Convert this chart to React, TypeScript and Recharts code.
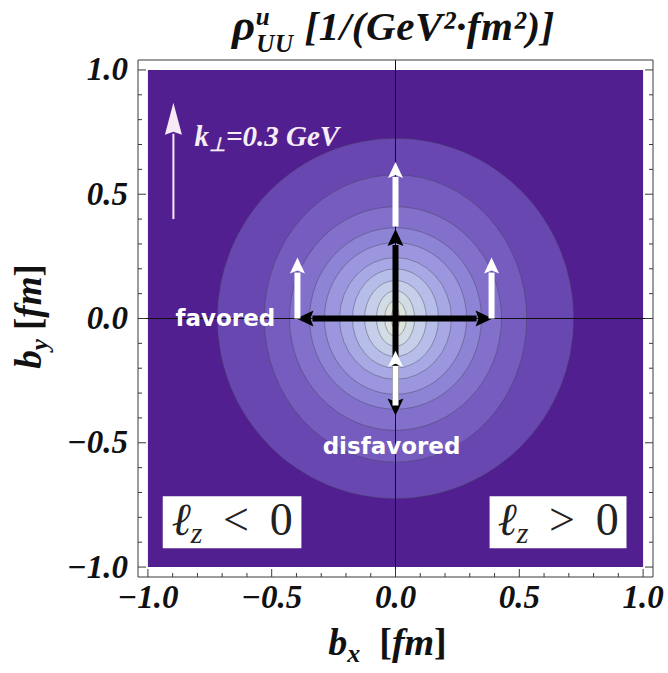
import React from "react";
import {
  ScatterChart,
  Scatter,
  XAxis,
  YAxis,
  ReferenceArea,
  ReferenceLine,
} from "recharts";

// frame ticks, every 0.1 fm (major every 0.5)
const frameTicks = [
  -1, -0.9, -0.8, -0.7, -0.6, -0.5, -0.4, -0.3, -0.2, -0.1, 0, 0.1, 0.2, 0.3,
  0.4, 0.5, 0.6, 0.7, 0.8, 0.9, 1,
];

// contour levels, outer -> inner (half widths / half heights in fm)
const contourRx = [0.72, 0.53, 0.428, 0.347, 0.287, 0.226, 0.174, 0.125, 0.077, 0.044, 0.016];
const contourRy = [0.725, 0.578, 0.45, 0.365, 0.305, 0.245, 0.2, 0.153, 0.112, 0.072, 0.044];
const contourFill = [
  "#6848b0", "#765cbe", "#8270cb", "#8e84d6", "#9b96de", "#a8a9e4",
  "#b6bde8", "#c5cfe9", "#d2dce5", "#dee3dc", "#e9e6d2",
];

// arrows in fm: [fromX, fromY, toX, toY]
const blackArrows = [
  [0, 0, 0, 0.36],
  [0, 0, -0.4, 0],
  [0, 0, 0.392, 0],
  [0, 0, 0, -0.39],
];
const whiteArrows = [
  [0, 0.37, 0, 0.63],
  [-0.396, 0, -0.396, 0.245],
  [0.388, 0, 0.388, 0.245],
  [0, -0.35, 0, -0.13],
];
const kArrow = [[-0.897, 0.4, -0.897, 0.868]];

// white boxes for l_z labels
const lzBoxes = [
  { x1: -0.94, x2: -0.38, y1: -0.924, y2: -0.715 },
  { x1: 0.38, x2: 0.933, y1: -0.924, y2: -0.715 },
];

const annotations = [
  { x: -0.687, y: -0.03, kind: "plain", text: "favored" },
  { x: -0.016, y: -0.545, kind: "plain", text: "disfavored" },
  { x: -0.812, y: 0.695, kind: "k", text: "=0.3 GeV" },
  { x: -0.66, y: -0.872, kind: "lz", text: "<" },
  { x: 0.657, y: -0.872, kind: "lz", text: ">" },
];

const serif = "'Liberation Serif', 'Times New Roman', serif";
const frameColor = "#3a3a3a";
const bg = "#521f90";

const fmt = (v: number) => v.toFixed(1).replace("-", "\u2212");

const FrameTick = (props: any) => {
  const { x, y, payload, side } = props;
  const v = payload.value;
  const major = Math.abs(v * 2 - Math.round(v * 2)) < 1e-6;
  const len = major ? 8 : 4;
  let line;
  let label = null;
  if (side === "bottom") {
    line = <line x1={x} y1={y} x2={x} y2={y - len} stroke={frameColor} />;
    if (major)
      label = (
        <text x={x} y={y + 31} textAnchor="middle" fontFamily={serif} fontWeight="bold" fontStyle="italic" fontSize={33} fill="#111">
          {fmt(v)}
        </text>
      );
  } else if (side === "top") {
    line = <line x1={x} y1={y} x2={x} y2={y + len} stroke={frameColor} />;
  } else if (side === "left") {
    line = <line x1={x} y1={y} x2={x + len} y2={y} stroke={frameColor} />;
    if (major)
      label = (
        <text x={x - 10} y={y + 10.5} textAnchor="end" fontFamily={serif} fontWeight="bold" fontStyle="italic" fontSize={33} fill="#111">
          {fmt(v)}
        </text>
      );
  } else {
    line = <line x1={x} y1={y} x2={x - len} y2={y} stroke={frameColor} />;
  }
  return (
    <g>
      {line}
      {label}
    </g>
  );
};

const arrowShape = (color: string, shaft: number, headW: number, headL: number) => (p: any) => {
  const { x1, y1, x2, y2 } = p;
  const dx = x2 - x1;
  const dy = y2 - y1;
  const len = Math.hypot(dx, dy) || 1;
  const ux = dx / len;
  const uy = dy / len;
  const bx = x2 - ux * headL;
  const by = y2 - uy * headL;
  const nx = -uy * (headW / 2);
  const ny = ux * (headW / 2);
  return (
    <g>
      <line x1={x1} y1={y1} x2={bx + ux} y2={by + uy} stroke={color} strokeWidth={shaft} />
      <polygon
        points={`${x2},${y2} ${bx + nx},${by + ny} ${bx + ux * 3},${by + uy * 3} ${bx - nx},${by - ny}`}
        fill={color}
      />
    </g>
  );
};

const ellipseShape = (fill: string) => (p: any) => (
  <ellipse
    cx={p.x + p.width / 2}
    cy={p.y + p.height / 2}
    rx={p.width / 2}
    ry={p.height / 2}
    fill={fill}
    stroke="#3c3c50"
    strokeOpacity={0.4}
    strokeWidth={1}
  />
);

const AnnotationShape = (props: any) => {
  const { cx, cy, payload } = props;
  if (payload.kind === "plain") {
    return (
      <text x={cx} y={cy} textAnchor="middle" fontFamily="'DejaVu Sans', Verdana, sans-serif" fontWeight="bold" fontSize={23} fill="#ffffff">
        {payload.text}
      </text>
    );
  }
  if (payload.kind === "k") {
    return (
      <text x={cx} y={cy} fontFamily={serif} fontWeight="bold" fontStyle="italic" fontSize={29} fill="#f6eef6">
        k<tspan fontSize={19} dy={5}>{"\u22A5"}</tspan>
        <tspan dy={-5}>{payload.text}</tspan>
      </text>
    );
  }
  return (
    <text x={cx} y={cy} textAnchor="middle" fontFamily={serif} fontSize={46} fill="#222">
      <tspan fontStyle="italic">{"\u2113"}</tspan>
      <tspan fontSize={30} fontStyle="italic" dy={8}>z</tspan>
      <tspan dy={-8}>{`\u2009 ${payload.text} \u2009`}0</tspan>
    </text>
  );
};

export default function App() {
  const dom: [number, number] = [-1.04, 1.04];
  return (
    <div style={{ position: "absolute", left: 0, top: 0, width: 668, height: 673, background: "#fff" }}>
      <ScatterChart width={668} height={673} margin={{ top: 59, right: 14, bottom: 46, left: 78 }}>
        <XAxis
          type="number"
          dataKey="x"
          domain={dom}
          allowDataOverflow
          ticks={frameTicks}
          interval={0}
          height={50}
          tickSize={0}
          tickMargin={0}
          tickLine={false}
          axisLine={{ stroke: frameColor }}
          tick={(p: any) => <FrameTick {...p} side="bottom" />}
          label={{
            content: (lp: any) => {
              const vb = lp.viewBox;
              return (
                <text x={vb.x + vb.width / 2 - 8} y={vb.y + 78} textAnchor="middle" fontFamily={serif} fontWeight="bold" fontSize={38} fill="#111">
                  <tspan fontStyle="italic">b</tspan>
                  <tspan fontStyle="italic" fontSize={26} dy={7}>x</tspan>
                  <tspan dy={-7}>{"\u2002["}</tspan>
                  <tspan fontStyle="italic">fm</tspan>
                  <tspan>]</tspan>
                </text>
              );
            },
          }}
        />
        <XAxis
          xAxisId="top"
          orientation="top"
          type="number"
          domain={dom}
          allowDataOverflow
          ticks={frameTicks}
          interval={0}
          height={1}
          tickSize={0}
          tickMargin={0}
          tickLine={false}
          axisLine={{ stroke: frameColor }}
          tick={(p: any) => <FrameTick {...p} side="top" />}
          label={{
            content: (lp: any) => {
              const vb = lp.viewBox;
              return (
                <text x={vb.x + vb.width / 2 - 2} y={vb.y - 19} textAnchor="middle" fontFamily={serif} fontWeight="bold" fontStyle="italic" fontSize={41} letterSpacing={0.6} fill="#111">
                  <tspan fontSize={45}>{"\u03C1"}</tspan>
                  <tspan fontSize={25} dy={-15}>u</tspan>
                  <tspan fontSize={25} dx={-14} dy={27}>UU</tspan>
                  <tspan dy={-12}>{" [1/(GeV\u00B2\u00B7fm\u00B2)]"}</tspan>
                </text>
              );
            },
          }}
        />
        <YAxis
          type="number"
          dataKey="y"
          domain={dom}
          allowDataOverflow
          ticks={frameTicks}
          interval={0}
          width={60}
          tickSize={0}
          tickMargin={0}
          tickLine={false}
          axisLine={{ stroke: frameColor }}
          tick={(p: any) => <FrameTick {...p} side="left" />}
          label={{
            content: (lp: any) => {
              const vb = lp.viewBox;
              const tx = vb.x - 37;
              const ty = vb.y + vb.height / 2 - 2;
              return (
                <text x={tx} y={ty} transform={`rotate(-90, ${tx}, ${ty})`} textAnchor="middle" fontFamily={serif} fontWeight="bold" fontSize={37} fill="#111">
                  <tspan fontStyle="italic">b</tspan>
                  <tspan fontStyle="italic" fontSize={25} dy={7}>y</tspan>
                  <tspan dy={-7}> [</tspan>
                  <tspan fontStyle="italic">fm</tspan>
                  <tspan>]</tspan>
                </text>
              );
            },
          }}
        />
        <YAxis
          yAxisId="right"
          orientation="right"
          type="number"
          domain={dom}
          allowDataOverflow
          ticks={frameTicks}
          interval={0}
          width={1}
          tickSize={0}
          tickMargin={0}
          tickLine={false}
          axisLine={{ stroke: frameColor }}
          tick={(p: any) => <FrameTick {...p} side="right" />}
        />

        <ReferenceArea x1={-1} x2={1} y1={-1} y2={1} fill={bg} fillOpacity={1} stroke="none" />
        {contourRx.map((rx, i) => (
          <ReferenceArea
            key={`c${i}`}
            x1={-rx}
            x2={rx}
            y1={-contourRy[i]}
            y2={contourRy[i]}
            shape={ellipseShape(contourFill[i])}
          />
        ))}
        <ReferenceLine x={0} stroke="#111" strokeWidth={1} />
        <ReferenceLine y={0} stroke="#111" strokeWidth={1} />

        {lzBoxes.map((b, i) => (
          <ReferenceArea key={`b${i}`} x1={b.x1} x2={b.x2} y1={b.y1} y2={b.y2} fill="#ffffff" fillOpacity={1} stroke="none" />
        ))}

        {kArrow.map((a, i) => (
          <ReferenceLine
            key={`k${i}`}
            segment={[{ x: a[0], y: a[1] }, { x: a[2], y: a[3] }]}
            shape={arrowShape("#f6eaf6", 2, 17, 32)}
          />
        ))}
        {blackArrows.map((a, i) => (
          <ReferenceLine
            key={`ba${i}`}
            segment={[{ x: a[0], y: a[1] }, { x: a[2], y: a[3] }]}
            shape={arrowShape("#000000", 6, 16, 17)}
          />
        ))}
        {whiteArrows.map((a, i) => (
          <ReferenceLine
            key={`wa${i}`}
            segment={[{ x: a[0], y: a[1] }, { x: a[2], y: a[3] }]}
            shape={arrowShape("#ffffff", 6, 15, 16)}
          />
        ))}

        <Scatter data={annotations} isAnimationActive={false} shape={(p: any) => <AnnotationShape {...p} />} />
      </ScatterChart>
    </div>
  );
}
